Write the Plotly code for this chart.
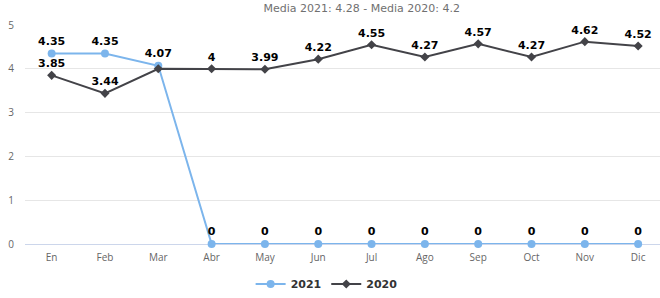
import plotly.graph_objects as go

months = ["En", "Feb", "Mar", "Abr", "May", "Jun", "Jul", "Ago", "Sep", "Oct", "Nov", "Dic"]
v2021 = [4.35, 4.35, 4.07, 0, 0, 0, 0, 0, 0, 0, 0, 0]
v2020 = [3.85, 3.44, 4.0, 4.0, 3.99, 4.22, 4.55, 4.27, 4.57, 4.27, 4.62, 4.52]
title_text = "Media 2021: 4.28 - Media 2020: 4.2"

def fmt(v):
    return "<b>%g</b>" % v

t2021 = [fmt(v) for v in v2021]
t2020 = [fmt(v) for v in v2020]
t2020[2] = ""  # hidden (overlaps with 2021 label)

fig = go.Figure()
fig.add_trace(go.Scatter(
    x=months, y=v2021, name="<b>2021</b>", mode="lines+markers+text",
    line=dict(color="#7cb5ec", width=2),
    marker=dict(symbol="circle", size=8, color="#7cb5ec"),
    text=t2021, textposition="top center",
    textfont=dict(family="Verdana, DejaVu Sans", size=11, color="#000000"),
    cliponaxis=False,
))
fig.add_trace(go.Scatter(
    x=months, y=v2020, name="<b>2020</b>", mode="lines+markers+text",
    line=dict(color="#434348", width=2),
    marker=dict(symbol="diamond", size=7, color="#434348"),
    text=t2020, textposition="top center",
    textfont=dict(family="Verdana, DejaVu Sans", size=11, color="#000000"),
    cliponaxis=False,
))

fig.update_layout(
    width=660, height=298,
    margin=dict(l=25, r=0, t=25, b=54),
    paper_bgcolor="white", plot_bgcolor="white",
    font=dict(family="Open Sans, DejaVu Sans", size=10, color="#666666"),
    title=dict(text=title_text, x=0.548, xanchor="center", y=0.985, yanchor="top",
               font=dict(family="Verdana, DejaVu Sans", size=11, color="#707070")),
    showlegend=True,
    legend=dict(orientation="h", x=0.475, xanchor="center", y=0.047, yanchor="middle",
                yref="container",
                font=dict(family="Verdana, DejaVu Sans", size=11, color="#333333"),
                itemwidth=30, traceorder="normal"),
    xaxis=dict(range=[-0.5, 11.41], showgrid=False, showline=False, zeroline=False,
               tickfont=dict(size=10, color="#666666"), ticks="", ticklabelstandoff=6),
    yaxis=dict(range=[0, 5], dtick=1, showgrid=True, gridcolor="#e6e6e6", gridwidth=1,
               zeroline=True, zerolinecolor="#ccd6eb", zerolinewidth=1,
               showline=False, ticks="", ticklabelstandoff=10,
               tickfont=dict(size=10, color="#666666")),
)
fig.write_html("out.html")
